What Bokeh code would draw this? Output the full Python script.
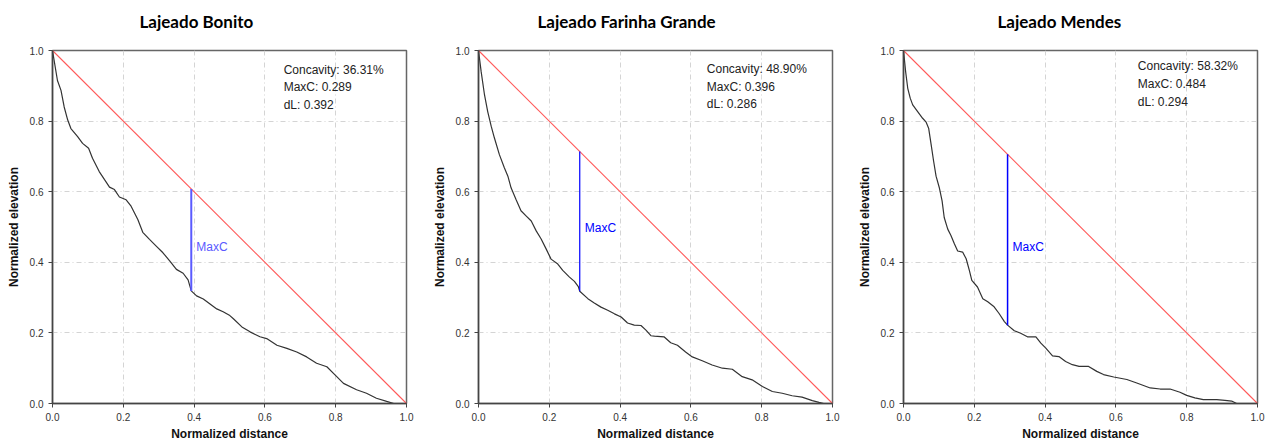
from bokeh.plotting import figure
from bokeh.layouts import row
from bokeh.models import Label, Range1d, Title
from bokeh.embed import file_html
from bokeh.resources import INLINE

# ---------------- data ----------------
names = ["Lajeado Bonito", "Lajeado Farinha Grande", "Lajeado Mendes"]
concavity = [36.31, 48.90, 58.32]
max_c = [0.289, 0.396, 0.484]
d_l = [0.392, 0.286, 0.294]

bonito_x = [0.0, 0.014, 0.024, 0.033, 0.043, 0.052, 0.071, 0.085, 0.102, 0.113, 0.132, 0.147,
            0.161, 0.175, 0.189, 0.208, 0.222, 0.241, 0.255, 0.274, 0.293, 0.312, 0.331, 0.350,
            0.369, 0.383, 0.392, 0.407, 0.426, 0.445, 0.464, 0.482, 0.501, 0.511, 0.535, 0.558,
            0.586, 0.605, 0.634, 0.662, 0.690, 0.718, 0.746, 0.775, 0.798, 0.822, 0.859, 0.887,
            0.915, 0.944, 0.964, 1.0]
bonito_y = [1.0, 0.915, 0.887, 0.840, 0.803, 0.779, 0.756, 0.737, 0.723, 0.695, 0.657, 0.634,
            0.613, 0.606, 0.585, 0.577, 0.559, 0.521, 0.485, 0.465, 0.446, 0.427, 0.404, 0.380,
            0.369, 0.350, 0.319, 0.305, 0.296, 0.282, 0.268, 0.260, 0.249, 0.240, 0.217, 0.203,
            0.189, 0.184, 0.165, 0.156, 0.146, 0.132, 0.114, 0.104, 0.081, 0.057, 0.039, 0.029,
            0.015, 0.006, 0.0, 0.0]

farinha_x = [0.0, 0.0075, 0.017, 0.026, 0.036, 0.045, 0.059, 0.073, 0.083, 0.092, 0.106, 0.120,
             0.135, 0.149, 0.163, 0.177, 0.191, 0.205, 0.224, 0.238, 0.257, 0.271, 0.282, 0.286,
             0.309, 0.327, 0.346, 0.365, 0.384, 0.403, 0.421, 0.440, 0.459, 0.473, 0.487, 0.497,
             0.524, 0.543, 0.562, 0.585, 0.604, 0.632, 0.660, 0.689, 0.717, 0.745, 0.773, 0.802,
             0.830, 0.858, 0.886, 0.914, 0.943, 0.962, 0.975, 1.0]
farinha_y = [1.0, 0.940, 0.874, 0.827, 0.785, 0.752, 0.705, 0.668, 0.644, 0.611, 0.578, 0.546,
             0.531, 0.517, 0.489, 0.466, 0.438, 0.409, 0.395, 0.377, 0.358, 0.346, 0.331, 0.318,
             0.297, 0.285, 0.273, 0.264, 0.254, 0.245, 0.228, 0.222, 0.221, 0.208, 0.192, 0.191,
             0.189, 0.172, 0.165, 0.146, 0.132, 0.121, 0.109, 0.100, 0.097, 0.076, 0.067, 0.048,
             0.034, 0.029, 0.022, 0.018, 0.008, 0.003, 0.0, 0.0]

mendes_x = [0.0, 0.006, 0.012, 0.019, 0.026, 0.040, 0.054, 0.064, 0.071, 0.078, 0.085, 0.092,
            0.101, 0.109, 0.115, 0.125, 0.134, 0.144, 0.153, 0.167, 0.177, 0.186, 0.193, 0.209,
            0.224, 0.238, 0.256, 0.270, 0.285, 0.294, 0.313, 0.331, 0.350, 0.374, 0.388, 0.402,
            0.421, 0.439, 0.458, 0.477, 0.496, 0.523, 0.546, 0.565, 0.594, 0.631, 0.659, 0.697,
            0.725, 0.753, 0.781, 0.800, 0.823, 0.847, 0.885, 0.908, 0.927, 0.941, 1.0]
mendes_y = [1.0, 0.940, 0.893, 0.865, 0.846, 0.827, 0.808, 0.797, 0.780, 0.734, 0.687, 0.644,
            0.612, 0.574, 0.527, 0.494, 0.476, 0.452, 0.432, 0.429, 0.410, 0.377, 0.349, 0.330,
            0.297, 0.288, 0.274, 0.255, 0.232, 0.222, 0.206, 0.199, 0.189, 0.189, 0.171, 0.157,
            0.135, 0.133, 0.119, 0.110, 0.105, 0.105, 0.091, 0.082, 0.075, 0.068, 0.058, 0.044,
            0.041, 0.041, 0.032, 0.023, 0.016, 0.011, 0.011, 0.009, 0.007, 0.0, 0.0]

diag_x = [0.0, 1.0]
diag_y = [1.0, 0.0]

tick_values = [0.0, 0.2, 0.4, 0.6, 0.8, 1.0]
tick_labels = ["0.0", "0.2", "0.4", "0.6", "0.8", "1.0"]
x_label = "Normalized distance"
y_label = "Normalized elevation"

curves_x = [bonito_x, farinha_x, mendes_x]
curves_y = [bonito_y, farinha_y, mendes_y]

# ---------------- layout / style ----------------
widths = [429, 425, 414]
left_borders = [52, 49, 49]
right_borders = [23, 22, 11]
title_offsets = [87, 59, 94]
stats_x = [0.653, 0.645, 0.662]
stats_y0 = [0.946, 0.948, 0.955]
maxc_colors = ["#5a5aff", "#0000ff", "#0000ff"]
maxc_widths = [2, 1.2, 1.5]
HEIGHT = 443
TOP = 50

FONT = "Liberation Sans"

figs = []
for i in range(3):
    p = figure(width=widths[i], height=HEIGHT, output_backend="svg", toolbar_location=None,
               x_range=Range1d(0, 1), y_range=Range1d(0, 1),
               min_border_left=left_borders[i], min_border_right=right_borders[i],
               min_border_top=TOP, min_border_bottom=0)
    p.title_location = None
    p.background_fill_color = "white"
    p.border_fill_color = "white"
    p.outline_line_color = "#666666"
    p.outline_line_width = 1.5

    # spacer (closest to frame) then the panel title above it
    p.add_layout(Title(text=" ", text_font_size="10px", text_line_height=1.0, standoff=6), "above")
    p.add_layout(Title(text=names[i], align="left", offset=title_offsets[i],
                       text_font="Lato", text_font_style="bold", text_font_size="17px",
                       text_color="#000000", standoff=0), "above")

    for ax in (p.xaxis[0], p.yaxis[0]):
        ax.ticker = tick_values
        ax.major_label_overrides = {v: l for v, l in zip(tick_values, tick_labels)}
        ax.major_label_text_font = FONT
        ax.major_label_text_font_size = "10px"
        ax.major_label_text_color = "#333333"
        ax.major_tick_out = 4
        ax.major_tick_in = 0
        ax.major_tick_line_color = "#444444"
        ax.minor_tick_line_color = None
        ax.axis_line_color = "#444444"
        ax.axis_line_width = 1.5
        ax.axis_label_text_font = FONT
        ax.axis_label_text_font_style = "bold"
        ax.axis_label_text_font_size = "12px"
        ax.axis_label_text_color = "#111111"
    p.xaxis.axis_label = x_label
    p.yaxis.axis_label = y_label
    p.xaxis.major_label_standoff = 5
    p.xaxis.axis_label_standoff = 3
    p.yaxis.major_label_standoff = 5
    p.yaxis.axis_label_standoff = 6

    p.grid.grid_line_color = "#d4d4d4"
    p.grid.grid_line_dash = "5 3 1 3"
    p.grid.grid_line_width = 1

    # reference line
    p.line(diag_x, diag_y, line_color="#ff5a5a", line_width=1.1)
    # hypsometric curve
    p.line(curves_x[i], curves_y[i], line_color="#333333", line_width=1.2)
    # MaxC segment
    top_y = 1.0 - d_l[i]
    bot_y = top_y - max_c[i]
    p.segment(x0=[d_l[i]], y0=[bot_y], x1=[d_l[i]], y1=[top_y],
              line_color=maxc_colors[i], line_width=maxc_widths[i])
    p.add_layout(Label(x=d_l[i], y=(top_y + bot_y) / 2 - 0.02, x_offset=5, text="MaxC",
                       text_font=FONT, text_font_size="12px",
                       text_color=maxc_colors[i], text_baseline="middle"))

    # stats text
    lines = [f"Concavity: {concavity[i]:.2f}%", f"MaxC: {max_c[i]:.3f}", f"dL: {d_l[i]:.3f}"]
    for k, t in enumerate(lines):
        p.add_layout(Label(x=stats_x[i], y=stats_y0[i] - 0.05 * k, text=t,
                           text_font=FONT, text_font_size="12px",
                           text_color="#222222", text_baseline="middle"))
    figs.append(p)

layout = row(*figs)
open("out.html", "w").write(file_html(layout, INLINE))
